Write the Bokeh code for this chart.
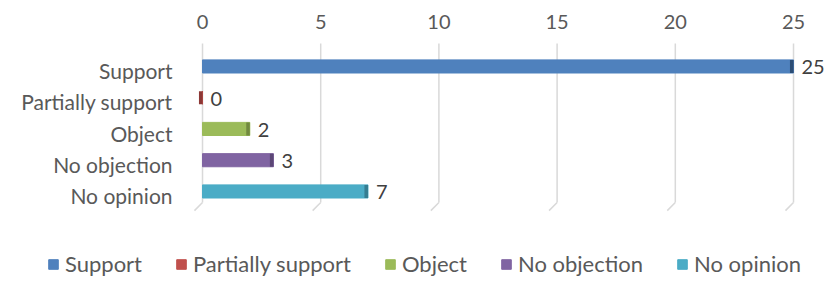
from bokeh.plotting import figure
from bokeh.models import ColumnDataSource, Range1d, FixedTicker
from bokeh.transform import dodge
from bokeh.core.properties import value
from bokeh.embed import file_html
from bokeh.resources import INLINE

categories = ["Support", "Partially support", "Object", "No objection", "No opinion"]
counts = [25, 0, 2, 3, 7]
colors = ["#4F81BD", "#C0504D", "#9BBB59", "#8064A2", "#4BACC6"]
cap_colors = ["#2C4D75", "#8C3836", "#71893F", "#5C4776", "#357D91"]
x_ticks = [0, 5, 10, 15, 20, 25]

FONT = "Lato"
FS = "21px"
idx = list(range(len(categories)))
src = ColumnDataSource(dict(idx=idx, cat=categories, val=counts, color=colors,
                            cap=cap_colors, label=[str(c) for c in counts]))

p = figure(width=827, height=282, output_backend="svg", toolbar_location=None,
           x_range=Range1d(-8.545, 26.438), y_range=Range1d(6.784, -0.96),
           x_axis_location="above", y_axis_location=None,
           min_border_left=0, min_border_right=0, min_border_top=40, min_border_bottom=0)
p.outline_line_color = None
p.xgrid.visible = False
p.ygrid.visible = False
p.background_fill_color = "white"
p.border_fill_color = "white"

ax = p.xaxis[0]
ax.ticker = FixedTicker(ticks=x_ticks)
ax.axis_line_color = None
ax.major_tick_line_color = None
ax.minor_tick_line_color = None
ax.major_tick_out = 0
ax.major_label_standoff = 12
ax.major_label_text_font = FONT
ax.major_label_text_font_size = "20px"
ax.major_label_text_color = "#595959"

# gridlines with small 3D floor foot
g_top, g_bot = -0.864, 4.224
n = len(x_ticks)
p.segment(x0=x_ticks, y0=[g_top] * n, x1=x_ticks, y1=[g_bot] * n,
          line_color="#D9D9D9", line_width=1.5)
p.segment(x0=x_ticks, y0=[g_bot] * n, x1=[t - 0.34 for t in x_ticks], y1=[g_bot + 0.26] * n,
          line_color="#D9D9D9", line_width=1.5)

# category labels (left of the value axis origin)
p.text(x=0, y="idx", text="cat", x_offset=-30, text_baseline="middle", text_align="right",
       text_font=value(FONT), text_font_size=FS, text_color="#595959", source=src)

ybar = dodge("idx", -0.13)
p.hbar(y=ybar, left=0, right="val", height=0.42, fill_color="color", line_color="color",
       source=src, legend_field="cat")
p.hbar(y=ybar, left=dodge("val", -0.15), right="val", height=0.42, fill_color="cap",
       line_color=None, source=src)
p.text(x="val", y=dodge("idx", -0.1), text="label", x_offset=8, text_baseline="middle",
       text_align="left", text_font=value(FONT), text_font_size="20px", text_color="#404040",
       source=src)

lg = p.legend[0]
lg.orientation = "horizontal"
lg.location = (47, 5)
lg.border_line_color = None
lg.background_fill_alpha = 0
lg.padding = 0
lg.margin = 0
lg.spacing = 33
lg.glyph_width = 12
lg.glyph_height = 12
lg.label_standoff = 6
lg.label_height = 20
lg.label_text_font = FONT
lg.label_text_font_size = "22px"
lg.label_text_color = "#595959"

open("out.html", "w").write(file_html(p, INLINE))
